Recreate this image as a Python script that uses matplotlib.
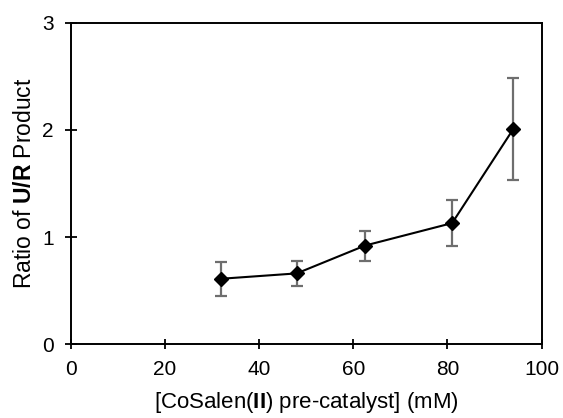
import matplotlib
matplotlib.use("Agg")
import matplotlib.pyplot as plt

plt.rcParams['font.family'] = ['Liberation Sans', 'DejaVu Sans']
plt.rcParams['mathtext.fontset'] = 'custom'
plt.rcParams['mathtext.rm'] = 'Liberation Sans'
plt.rcParams['mathtext.bf'] = 'Liberation Sans:bold'

# data
conc = [32, 48, 62.5, 81, 94]
ratio = [0.61, 0.66, 0.92, 1.13, 2.01]
err = [0.16, 0.12, 0.14, 0.215, 0.48]

fig = plt.figure(figsize=(5.63, 4.18), dpi=100)
ax = fig.add_axes([0.1256, 0.177, 0.8364, 0.768])

ax.errorbar(conc, ratio, yerr=err, fmt='none', ecolor='#6e6e6e',
            elinewidth=1.6, capsize=4.2, capthick=1.6, zorder=2)
ax.plot(conc, ratio, color='black', lw=1.5, marker='D', markersize=7, zorder=3)

ax.set_xlim(0, 100)
ax.set_ylim(0, 3)
ax.set_xticks([0, 20, 40, 60, 80, 100])
ax.set_yticks([0, 1, 2, 3])
ax.tick_params(direction='inout', width=1.3, labelsize=15)
ax.tick_params(axis='x', length=6.5, pad=8)
ax.tick_params(axis='y', length=8.5, pad=8)
for s in ax.spines.values():
    s.set_linewidth(1.4)

ax.set_xlabel(r'[CoSalen($\mathbf{II}$) pre-catalyst] (mM)', fontsize=16, labelpad=8)
ax.set_ylabel(r'Ratio of $\mathbf{U/R}$ Product', fontsize=16.5, labelpad=4)

fig.savefig('out.png', dpi=100)
